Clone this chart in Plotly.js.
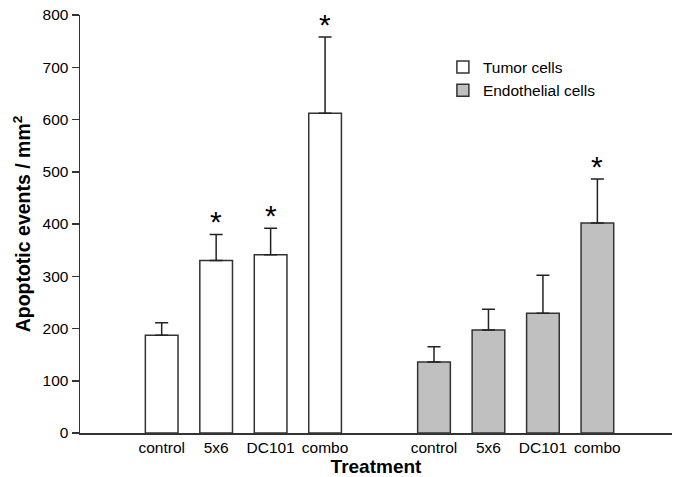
<!DOCTYPE html>
<html>
<head>
<meta charset="utf-8">
<script src="https://cdn.plot.ly/plotly-3.0.1.min.js"></script>
<style>html,body{margin:0;padding:0;background:#fff;}#chart{width:677px;height:477px;}</style>
</head>
<body>
<div id="chart"></div>
<script>
// Data
const categories = ["control", "5x6", "DC101", "combo"];
const tumorMeans = [187, 330, 341, 612];
const tumorErr = [24, 50, 51, 146];
const tumorSig = [false, true, true, true];
const endoMeans = [136, 197, 229, 402];
const endoErr = [29, 40, 73, 84];
const endoSig = [false, false, false, true];
const seriesNames = ["Tumor cells", "Endothelial cells"];
const yTicks = [0, 100, 200, 300, 400, 500, 600, 700, 800];

// positions: group 1 at 0..3, group 2 at 5..8
const xTumor = categories.map((c, i) => i);
const xEndo = categories.map((c, i) => i + 5);

const font = "Liberation Sans, Arial, sans-serif";

const traces = [
  {
    type: "bar", name: seriesNames[0], x: xTumor, y: tumorMeans, width: 0.6,
    marker: {color: "#ffffff", line: {color: "#333333", width: 1.5}},
    error_y: {type: "data", array: tumorErr, arrayminus: tumorErr.map(() => 0), symmetric: false,
              color: "#222222", thickness: 1.5, width: 6.5}
  },
  {
    type: "bar", name: seriesNames[1], x: xEndo, y: endoMeans, width: 0.6,
    marker: {color: "#c0c0c0", line: {color: "#333333", width: 1.5}},
    error_y: {type: "data", array: endoErr, arrayminus: endoErr.map(() => 0), symmetric: false,
              color: "#222222", thickness: 1.5, width: 6.5}
  }
];

const annotations = [];
function addStars(xs, means, errs, sig) {
  xs.forEach((x, i) => {
    if (sig[i]) {
      annotations.push({
        x: x, y: means[i] + errs[i], xref: "x", yref: "y", text: "*",
        showarrow: false, yanchor: "bottom", yshift: -6,
        font: {family: font, size: 30, color: "#000"}
      });
    }
  });
}
addStars(xTumor, tumorMeans, tumorErr, tumorSig);
addStars(xEndo, endoMeans, endoErr, endoSig);

const layout = {
  width: 677, height: 477,
  margin: {l: 80, r: 5, t: 15, b: 44},
  paper_bgcolor: "#ffffff", plot_bgcolor: "#ffffff",
  font: {family: font, size: 16, color: "#000"},
  showlegend: true,
  legend: {x: 0.613, y: 0.915, xanchor: "left", yanchor: "top", bgcolor: "rgba(0,0,0,0)",
           font: {family: font, size: 15.5, color: "#000"}, tracegroupgap: 0},
  xaxis: {
    range: [-1.5, 9.37], tickmode: "array",
    tickvals: xTumor.concat(xEndo), ticktext: categories.concat(categories),
    showline: true, linecolor: "#333333", linewidth: 1.5, ticks: "", showgrid: false, zeroline: false,
    tickfont: {family: font, size: 15.5, color: "#000"},
    title: {text: "<b>Treatment</b>", font: {family: font, size: 19, color: "#000"}, standoff: 0},
    fixedrange: true
  },
  yaxis: {
    range: [0, 800], tickmode: "array", tickvals: yTicks,
    showline: true, linecolor: "#333333", linewidth: 1.5, ticks: "outside", ticklen: 7,
    tickcolor: "#333333", tickwidth: 1.5, showgrid: false, zeroline: false,
    tickfont: {family: font, size: 15.5, color: "#000"},
    title: {text: "<b>Apoptotic events / mm<sup>2</sup></b>", font: {family: font, size: 19.5, color: "#000"}, standoff: 6},
    fixedrange: true
  },
  annotations: annotations,
  bargap: 0
};

Plotly.newPlot("chart", traces, layout, {displayModeBar: false, staticPlot: true});
</script>
</body>
</html>
